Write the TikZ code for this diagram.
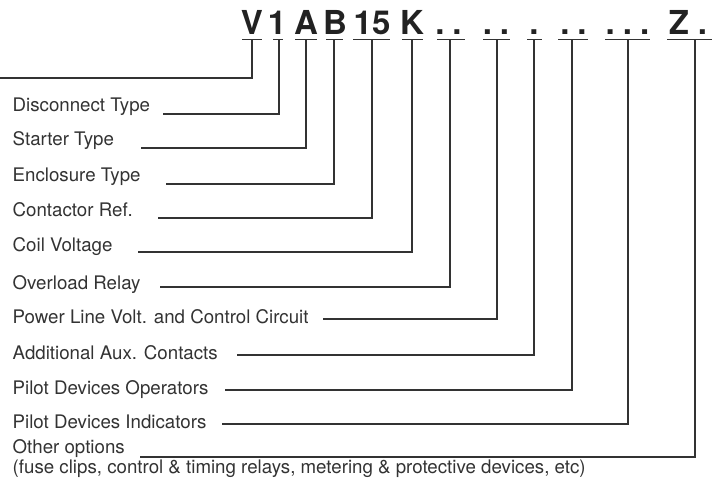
\documentclass[tikz,border=0pt]{standalone}
\usepackage{fontspec}
\setmainfont{TeX Gyre Heros}
\usetikzlibrary{positioning}
\definecolor{inkgray}{HTML}{333333}
\definecolor{codeink}{HTML}{222222}

\tikzset{
  codechar/.style={font=\fontsize{33}{36}\selectfont\bfseries, text=codeink, inner sep=0pt, anchor=base},
  fieldlabel/.style={font=\fontsize{18.7}{22}\selectfont, text=inkgray, inner sep=0pt, anchor=base west},
  leader/.style={draw=inkgray, line width=1.1pt},
}

\begin{document}
\begin{tikzpicture}[x=1pt, y=-1pt]
  \useasboundingbox (0,0) rectangle (714,481);

  % Code groups with their underlines
  \foreach \grp/\cx/\ux/\hw/\sx/\txt in {
      V/252/252/10/252/V,
      one/277/278/5/279/1,
      A/306/306/11/306/A,
      B/335/334.5/8.5/334/B,
      fifteen/372/371.5/18.5/372/15,
      K/412/412.5/10.5/412/K,
      dotsa/448.5/451/14/450/{.\hspace{8pt}.},
      dotsb/496/496.5/13.5/497/{.\hspace{8pt}.},
      dot/534/534.5/7.5/534/.,
      dotsc/573.5/573/15/572/{.\hspace{8pt}.},
      dotsd/627.5/627.5/22.5/628/{.\hspace{8pt}.\hspace{8pt}.},
      Z/688/689.5/22.5/695/{Z\hspace{9pt}.}}
  {
    \node[codechar] (\grp) at (\cx,35) {\txt};
    \draw[leader] (\ux-\hw,39.5) -- (\ux+\hw,39.5);
    \coordinate (\grp-stem) at (\sx,39.5);
  }

  % First field has no label
  \coordinate (vstart) at (0,78);
  \draw[leader] (vstart) -| (V-stem);

  % Field labels and leaders
  \foreach \ly/\by/\sx/\grp/\txt in {
      114/112/163/one/{Disconnect Type},
      148/146/141/A/{Starter Type},
      184/182/166/B/{Enclosure Type},
      218/216/158/fifteen/{Contactor Ref.},
      252/251/138/K/{Coil Voltage},
      287/289/160/dotsa/{Overload Relay},
      319/323/323/dotsb/{Power Line Volt. and Control Circuit},
      355/359/237/dot/{Additional Aux. Contacts},
      390/394/225/dotsc/{Pilot Devices Operators},
      424/428/222/dotsd/{Pilot Devices Indicators},
      457/453/140/Z/{Other options}}
  {
    \node[fieldlabel] (lbl-\grp) at (12.5,\by) {\txt};
    \coordinate (start-\grp) at (\sx,\ly);
    \draw[leader] (start-\grp) -| (\grp-stem);
  }

  \node[fieldlabel] (note) at (12.5,473) {(fuse clips, control \& timing relays, metering \& protective devices, etc)};
\end{tikzpicture}
\end{document}
